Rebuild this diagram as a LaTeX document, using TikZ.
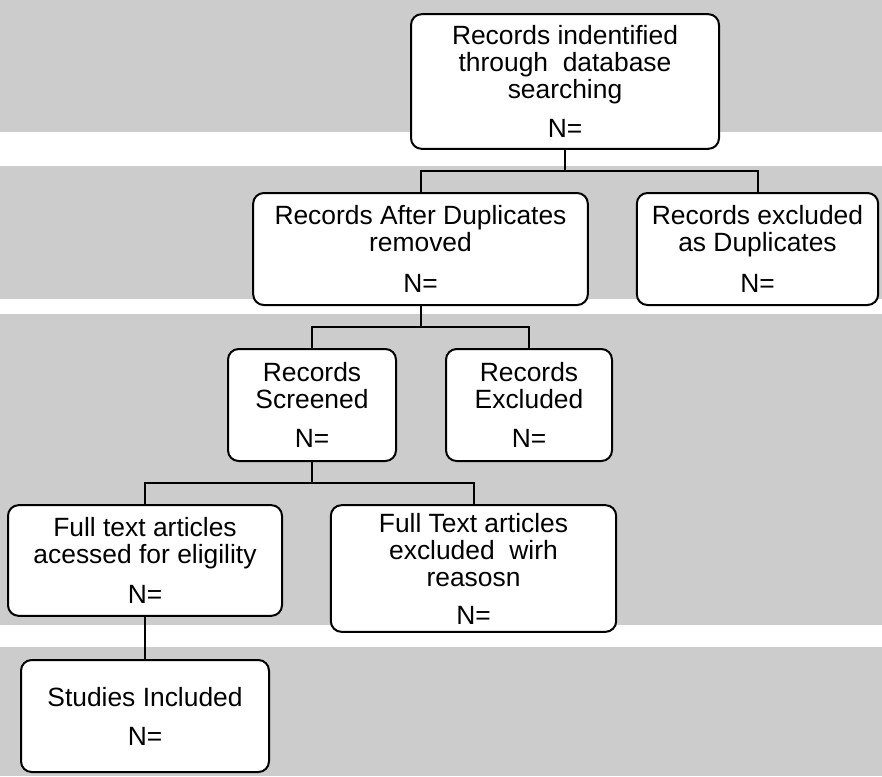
\documentclass[tikz,border=0pt]{standalone}
\usepackage{fontspec}
\setmainfont{Liberation Sans}
\definecolor{bandgray}{HTML}{CCCCCC}
\begin{document}
\begin{tikzpicture}[x=0.75pt,y=-0.75pt,
  box/.style={draw=black, fill=white, line width=1.5pt, rounded corners=8pt,
    align=center, inner sep=0pt, font=\fontsize{19.8}{20.3}\selectfont},
  link/.style={draw=black, line width=1.5pt}]
\useasboundingbox (0,0) rectangle (882,776);
% background bands
\fill[bandgray] (0,0) rectangle (882,132);
\fill[bandgray] (0,166) rectangle (882,299);
\fill[bandgray] (0,314) rectangle (882,625);
\fill[bandgray] (0,647) rectangle (882,776);
% boxes
\node[box, minimum width=231pt, minimum height=101pt] (A) at (565,81.5)
  {Records indentified\\through~~database\\searching\\[9pt]N=};
\node[box, minimum width=251pt, minimum height=84pt] (B) at (420.5,249)
  {Records After Duplicates\\removed\\[10pt]N=};
\node[box, minimum width=181pt, minimum height=84pt] (C) at (757.5,249)
  {Records excluded\\as Duplicates\\[11pt]N=};
\node[box, minimum width=126pt, minimum height=84pt] (D) at (312,405)
  {Records\\Screened\\[9pt]N=};
\node[box, minimum width=124.5pt, minimum height=84pt] (E) at (529,405)
  {Records\\Excluded\\[9pt]N=};
\node[box, minimum width=205.5pt, minimum height=83pt] (F) at (145,560.5)
  {Full text articles\\acessed for eligility\\[10pt]N=};
\node[box, minimum width=214pt, minimum height=95pt] (G) at (473.5,568.5)
  {Full Text articles\\excluded~~wirh\\reasosn\\[8pt]N=};
\node[box, minimum width=186pt, minimum height=84pt] (S) at (145,716)
  {Studies Included\\[9pt]N=};
% junctions
\coordinate (j1) at (565,171);
\coordinate (j2) at (420.5,327);
\coordinate (j3) at (312,483);
% connectors
\draw[link] (A.south) -- (j1);
\draw[link] (B.north) |- (j1) -| (C.north);
\draw[link] (B.south) -- (j2);
\draw[link] (D.north) |- (j2) -| (E.north);
\draw[link] (D.south) -- (j3);
\draw[link] (F.north) |- (j3) -| (G.north);
\draw[link] (F.south) -- (S.north);
\end{tikzpicture}
\end{document}
